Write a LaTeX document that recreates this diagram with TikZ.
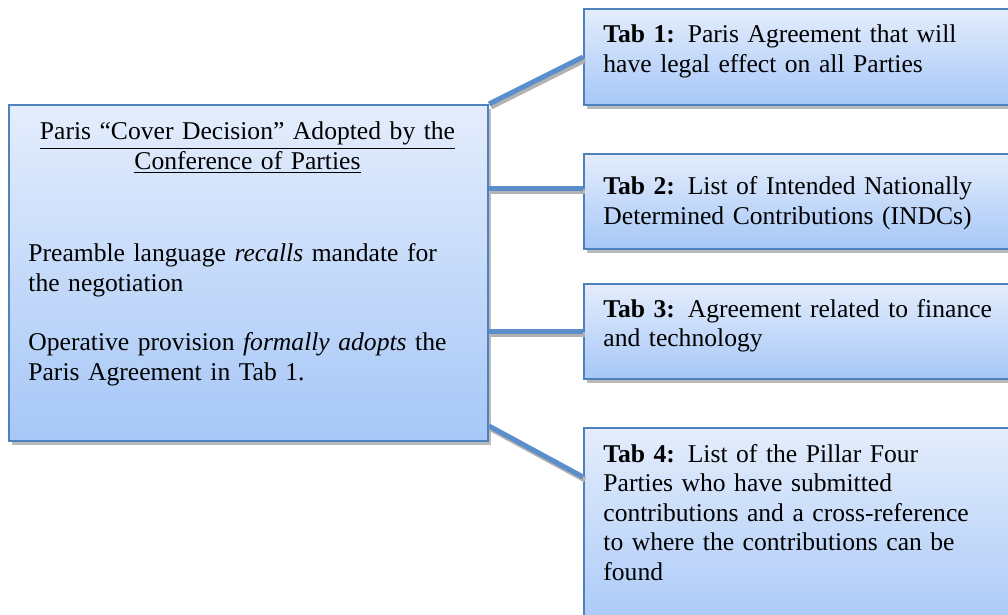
\documentclass[tikz,border=0pt]{standalone}
\usepackage{fontspec}
\setmainfont{Liberation Serif}
\usetikzlibrary{calc,shadows}

\definecolor{boxline}{RGB}{79,129,189}
\definecolor{boxtop}{RGB}{228,237,252}
\definecolor{boxbot}{RGB}{166,199,247}
\definecolor{linkblue}{RGB}{92,142,202}

\tikzset{
  tabbox/.style={draw=boxline,line width=1pt,top color=boxtop,bottom color=boxbot,
    anchor=north west,inner sep=0pt,
    drop shadow={shadow xshift=1.5pt,shadow yshift=-2pt,fill=black!45,opacity=.6}},
  tabtext/.style={anchor=base west,align=left,text width=230pt,inner sep=0pt,
    font=\fontsize{12.8}{14.8}\selectfont},
  link/.style={draw=linkblue,line width=2.5pt,
    preaction={draw=black!30,line width=2.5pt,transform canvas={shift={(1pt,-1.5pt)}}}}
}

\begin{document}
\begin{tikzpicture}[x=0.5pt,y=-0.5pt]
\useasboundingbox (0,0) rectangle (1008,615);

% boxes
\node[tabbox,minimum width=239.5pt,minimum height=168pt] (cover) at (8,104) {};
\node[tabbox,minimum width=222.5pt,minimum height=48pt] (tab1) at (583,8) {};
\node[tabbox,minimum width=222.5pt,minimum height=47.5pt] (tab2) at (583,153) {};
\node[tabbox,minimum width=222.5pt,minimum height=47.5pt] (tab3) at (583,283) {};
\node[tabbox,minimum width=222.5pt,minimum height=106.5pt] (tab4) at (583,427) {};

% connectors
\coordinate (j2) at ($(tab2.north west)!.37!(tab2.south west)$);
\draw[link] (cover.north east) -- (tab1.west);
\draw[link] (cover.east |- j2) -- (j2);
\draw[link] (cover.east |- tab3.west) -- (tab3.west);
\draw[link] ([yshift=8pt]cover.south east) -- ([yshift=-25pt]tab4.north west);

% texts
\node[tabtext,anchor=base,align=center] (title) at (247.5,140)
  {\underline{Paris “Cover Decision” Adopted by the}\\\underline{Conference of Parties}};
\node[tabtext] (body) at (28,262)
  {Preamble language \emph{recalls} mandate for\\the negotiation\\[14.8pt]
   Operative provision \emph{formally adopts} the\\Paris Agreement in Tab 1.};
\node[tabtext] (t1) at (603,42.5) {\textbf{Tab 1:} Paris Agreement that will\\have legal effect on all Parties};
\node[tabtext] (t2) at (603,195) {\textbf{Tab 2:} List of Intended Nationally\\Determined Contributions (INDCs)};
\node[tabtext] (t3) at (603,317) {\textbf{Tab 3:} Agreement related to finance\\and technology};
\node[tabtext] (t4) at (603,462) {\textbf{Tab 4:} List of the Pillar Four\\Parties who have submitted\\contributions and a cross-reference\\to where the contributions can be\\found};
\end{tikzpicture}
\end{document}
